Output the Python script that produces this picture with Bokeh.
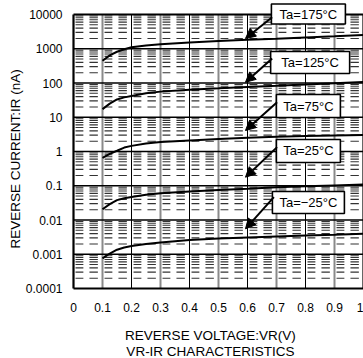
from bokeh.plotting import figure
from bokeh.models import (FixedTicker, CustomJSTickFormatter, Arrow, NormalHead, Range1d, Title)
from bokeh.core.properties import value
from bokeh.embed import file_html
from bokeh.resources import INLINE

# ---- data ----
vr = [0.1, 0.125, 0.15, 0.175, 0.2, 0.25, 0.3, 0.4, 0.5, 0.6, 0.7, 0.8, 0.9, 1.0]
ir_175 = [446, 640, 817, 970, 1100, 1250, 1360, 1530, 1680, 1820, 1960, 2120, 2300, 2520]
ir_125 = [17.3, 25, 33, 38, 42, 50, 56, 64, 70, 77, 83, 90, 98, 108]
ir_75 = [0.65, 0.85, 1.05, 1.3, 1.46, 1.7, 1.88, 2.1, 2.3, 2.5, 2.7, 2.85, 2.95, 3.05]
ir_25 = [0.0206, 0.029, 0.038, 0.043, 0.047, 0.055, 0.06, 0.068, 0.075, 0.082, 0.09, 0.096, 0.102, 0.108]
ir_m25 = [0.00076, 0.00105, 0.00136, 0.00158, 0.00174, 0.002, 0.0022, 0.0026, 0.0029, 0.0031, 0.0033, 0.0035, 0.0037, 0.004]
series = [ir_175, ir_125, ir_75, ir_25, ir_m25]

x_ticks = [0.0, 0.1, 0.2, 0.3, 0.4, 0.5, 0.6, 0.7, 0.8, 0.9, 1.0]
y_ticks = [1e-4, 1e-3, 1e-2, 1e-1, 1, 10, 100, 1000, 10000]

temp_labels = ["Ta=175°C", "Ta=125°C", "Ta=75°C", "Ta=25°C", "Ta=−25°C"]
label_x = [0.810, 0.816, 0.810, 0.810, 0.810]
label_y = [10340, 397, 21.3, 1.035, 0.0324]
arrow_x0 = [0.685, 0.685, 0.702, 0.702, 0.691]
arrow_y0 = [8340, 519, 27.5, 1.34, 0.0463]
arrow_x1 = [0.593, 0.593, 0.593, 0.593, 0.593]
arrow_y1 = [1992, 105, 4.1, 0.178, 0.00553]

x_titles = ["REVERSE VOLTAGE:VR(V)", "VR-IR CHARACTERISTICS"]
x_title_x = [0.472, 0.472]
x_title_y = [10 ** -5.358, 10 ** -5.839]
y_title = "REVERSE CURRENT:IR (nA)"

FONT = "Liberation Sans"
box_w = [74, 79, 64, 64, 72]
box_h = [20, 22, 23, 23, 22]

# the frame covers the whole canvas height (and a few px left of x=0, so the
# "0" tick label is not clipped); the x axis sits at y = 1e-4
PX_DEC = 34.25
y_top = 10 ** (4 + 14 / PX_DEC)
y_bot = 10 ** (4 - 344 / PX_DEC)
x_left = -7 / 290
p = figure(width=363, height=358, x_range=Range1d(x_left, 1), y_range=Range1d(y_bot, y_top),
           y_axis_type="log", output_backend="svg", toolbar_location=None,
           min_border_left=66, min_border_right=0, min_border_top=0, min_border_bottom=0)
p.xgrid.visible = False
p.ygrid.visible = False
p.outline_line_color = None
p.background_fill_color = "white"
p.border_fill_color = "white"

# minor dashed horizontals (2..9 in every decade), broken between the verticals
mx0, mx1, my = [], [], []
for d in range(-4, 4):
    for m in range(2, 10):
        yv = m * 10.0 ** d
        for k in range(10):
            for a, b in ((0.007, 0.034), (0.055, 0.084)):
                mx0.append(k / 10 + a)
                mx1.append(k / 10 + b)
                my.append(yv)
p.segment(x0=mx0, y0=my, x1=mx1, y1=my, line_color="#333333", line_width=1.1)

# verticals: odd tenths grey, even tenths black
odd = [x for i, x in enumerate(x_ticks) if 0 < i < 10 and i % 2 == 1]
even = [x for i, x in enumerate(x_ticks) if 0 < i < 10 and i % 2 == 0]
p.segment(x0=odd, y0=[y_ticks[0]] * len(odd), x1=odd, y1=[y_ticks[-1]] * len(odd),
          line_color="#8a8a8a", line_width=2)
p.segment(x0=even, y0=[y_ticks[0]] * len(even), x1=even, y1=[y_ticks[-1]] * len(even),
          line_color="black", line_width=1)
# decade lines
dec = y_ticks[1:-1]
p.segment(x0=[0] * len(dec), y0=dec, x1=[1] * len(dec), y1=dec, line_color="black", line_width=1.5)

for s in series:
    p.line(vr, s, line_color="black", line_width=2)

# plot frame (top, bottom, left, right)
fx0 = [x_ticks[0], x_ticks[0], x_ticks[0], x_ticks[-1]]
fx1 = [x_ticks[-1], x_ticks[-1], x_ticks[0], x_ticks[-1]]
fy0 = [y_ticks[-1], y_ticks[0], y_ticks[0], y_ticks[0]]
fy1 = [y_ticks[-1], y_ticks[0], y_ticks[-1], y_ticks[-1]]
p.segment(x0=fx0, y0=fy0, x1=fx1, y1=fy1, line_color="black", line_width=2.2)

# axes
for ax in (p.xaxis[0], p.yaxis[0]):
    ax.axis_line_color = None
    ax.major_tick_line_color = None
    ax.minor_tick_line_color = None
    ax.major_tick_out = 0
    ax.major_tick_in = 0
    ax.major_label_text_font = FONT
    ax.major_label_text_font_size = "12px"
    ax.major_label_text_color = "black"
p.xaxis.ticker = FixedTicker(ticks=x_ticks)
p.xaxis.formatter = CustomJSTickFormatter(code="return String(Math.round(tick*10)/10);")
p.xaxis.major_label_standoff = 14
p.xaxis.fixed_location = y_ticks[0]
p.yaxis.ticker = FixedTicker(ticks=y_ticks, minor_ticks=[])
p.yaxis.formatter = CustomJSTickFormatter(
    code="if (tick >= 1) {return tick.toFixed(0);} return tick.toFixed(Math.round(-Math.log10(tick)));")
p.yaxis.major_label_standoff = 4

# axis titles
p.text(x=x_title_x, y=x_title_y, text=x_titles, text_align="center", text_baseline="middle",
       text_font=value(FONT), text_font_size=value("13.5px"), text_color="black")
p.add_layout(Title(text=y_title, align="left", offset=110, standoff=0, text_font=FONT,
                   text_font_size="13.5px", text_font_style="normal", text_color="black"), "left")

# temperature labels and arrows
p.rect(x=label_x, y=label_y, width=box_w, height=box_h, width_units="screen",
       height_units="screen", fill_color="white", line_color="black", line_width=1.6)
p.text(x=label_x, y=label_y, text=temp_labels, text_align="center", text_baseline="middle",
       text_font=value(FONT), text_font_size=value("13px"), text_color="black")
for i in range(len(temp_labels)):
    p.add_layout(Arrow(end=NormalHead(size=10, fill_color="black", line_color="black"),
                       x_start=arrow_x0[i], y_start=arrow_y0[i],
                       x_end=arrow_x1[i], y_end=arrow_y1[i],
                       line_color="black", line_width=2))

open("out.html", "w").write(file_html(p, INLINE))
